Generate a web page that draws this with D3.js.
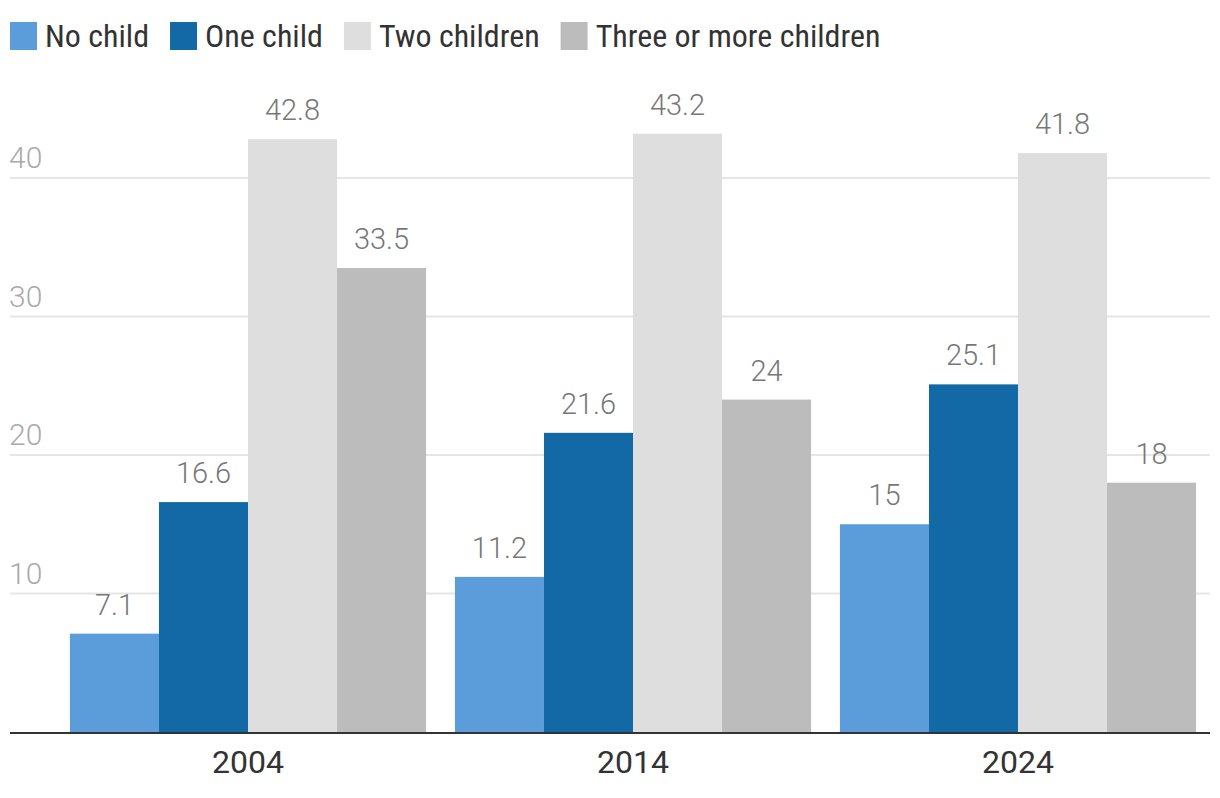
<!DOCTYPE html>
<html>
<head>
<meta charset="utf-8">
<script src="https://cdn.jsdelivr.net/npm/d3@7"></script>
<style>
  body { margin: 0; background: #fff; }
  svg { display: block; }
</style>
</head>
<body>
<script>
//chart data
var years = ["2004", "2014", "2024"];
var seriesNames = ["No child", "One child", "Two children", "Three or more children"];
var noChild = [7.1, 11.2, 15];
var oneChild = [16.6, 21.6, 25.1];
var twoChildren = [42.8, 43.2, 41.8];
var threePlus = [33.5, 24, 18];
var yTicks = [10, 20, 30, 40];
var colors = ["#5b9ddb", "#1269a6", "#dedede", "#bcbcbc"];

var seriesValues = [noChild, oneChild, twoChildren, threePlus];

var width = 1220,
    height = 798;

var svg = d3.select("body")
    .append("svg")
    .attr("width", width)
    .attr("height", height);

var numFont = "Roboto, 'Noto Sans', sans-serif";
var textFont = "'Liberation Sans Narrow', 'Roboto Condensed', Roboto, sans-serif";

//scales
var x0 = d3.scaleBand()
    .domain(years)
    .range([55.5, 1210.5])
    .paddingInner(0.075)
    .paddingOuter(0.0375);

var x1 = d3.scaleBand()
    .domain(seriesNames)
    .range([0, x0.bandwidth()]);

var y = d3.scaleLinear()
    .domain([0, 45])
    .range([732, 732 - 45 * 13.85]);

//gridlines and tick labels
var grid = svg.append("g").attr("class", "grid");
grid.selectAll("line")
    .data(yTicks)
    .enter()
    .append("line")
    .attr("x1", 10)
    .attr("x2", 1210)
    .attr("y1", function(d){ return y(d); })
    .attr("y2", function(d){ return y(d); })
    .attr("stroke", "#e6e6e6")
    .attr("stroke-width", 2);

grid.selectAll("text")
    .data(yTicks)
    .enter()
    .append("text")
    .attr("x", 9)
    .attr("y", function(d){ return y(d) - 10; })
    .attr("fill", "#aaaaaa")
    .attr("font-family", numFont)
    .attr("font-weight", 300)
    .attr("font-size", "30px")
    .text(function(d){ return d; });

//bars
var groups = svg.selectAll(".yearGroup")
    .data(years)
    .enter()
    .append("g")
    .attr("class", "yearGroup")
    .attr("transform", function(d){ return "translate(" + x0(d) + ",0)"; });

groups.selectAll("rect")
    .data(function(d, i){
        return seriesNames.map(function(s, j){ return {name: s, value: seriesValues[j][i], idx: j}; });
    })
    .enter()
    .append("rect")
    .attr("x", function(d){ return x1(d.name); })
    .attr("y", function(d){ return y(d.value); })
    .attr("width", x1.bandwidth())
    .attr("height", function(d){ return y(0) - y(d.value); })
    .attr("fill", function(d){ return colors[d.idx]; });

//value labels
groups.selectAll(".valueLabel")
    .data(function(d, i){
        return seriesNames.map(function(s, j){ return {name: s, value: seriesValues[j][i]}; });
    })
    .enter()
    .append("text")
    .attr("class", "valueLabel")
    .attr("x", function(d){ return x1(d.name) + x1.bandwidth() / 2; })
    .attr("y", function(d){ return y(d.value) - 19; })
    .attr("text-anchor", "middle")
    .attr("fill", "#777777")
    .attr("font-family", numFont)
    .attr("font-weight", 300)
    .attr("font-size", "29px")
    .text(function(d){ return d.value; });

//x axis
svg.append("line")
    .attr("x1", 10)
    .attr("x2", 1210)
    .attr("y1", y(0) + 1)
    .attr("y2", y(0) + 1)
    .attr("stroke", "#333333")
    .attr("stroke-width", 2);

svg.selectAll(".yearLabel")
    .data(years)
    .enter()
    .append("text")
    .attr("class", "yearLabel")
    .attr("x", function(d){ return x0(d) + x0.bandwidth() / 2; })
    .attr("y", 773)
    .attr("text-anchor", "middle")
    .attr("fill", "#333333")
    .attr("font-family", numFont)
    .attr("font-size", "32px")
    .text(function(d){ return d; });

//legend
var legend = svg.append("g").attr("class", "legend");
var lx = 10;
seriesNames.forEach(function(name, i){
    var item = legend.append("g").attr("transform", "translate(" + lx + ",0)");
    item.append("rect")
        .attr("x", 0)
        .attr("y", 22)
        .attr("width", 27)
        .attr("height", 28)
        .attr("fill", colors[i]);
    var t = item.append("text")
        .attr("x", 35)
        .attr("y", 47)
        .attr("fill", "#333333")
        .attr("font-family", textFont)
        .attr("font-size", "32px")
        .text(name);
    lx += 35 + t.node().getComputedTextLength() + 21;
});
</script>
</body>
</html>
